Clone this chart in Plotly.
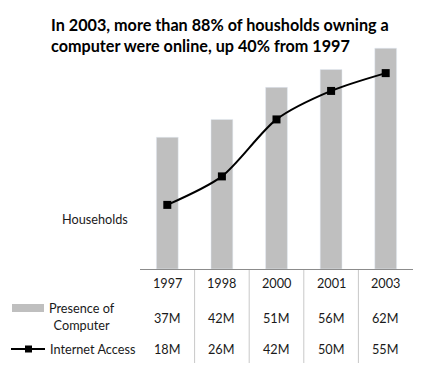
import plotly.graph_objects as go

years = ["1997", "1998", "2000", "2001", "2003"]
computer = [37, 42, 51, 56, 62]
internet = [18, 26, 42, 50, 55]
computer_labels = ["37M", "42M", "51M", "56M", "62M"]
internet_labels = ["18M", "26M", "42M", "50M", "55M"]
title_text = "In 2003, more than 88% of housholds owning a<br>computer were online, up 40% from 1997"

W, H = 431, 376
L, R, T, B = 140, 18, 40, 107
PW, PH = W - L - R, H - T - B
YMAX = 64.3

def px(x):
    return (x - L) / PW

def py(y):
    return (H - B - y) / PH

FONT = "Lato"
TXT = "#1a1a1a"
BAR = "#BFBFBF"

fig = go.Figure()
fig.add_trace(go.Bar(x=list(range(5)), y=computer, marker_color=BAR, width=0.4,
                     showlegend=False, hoverinfo="skip"))
fig.add_trace(go.Scatter(x=list(range(5)), y=internet, mode="lines+markers",
                         line=dict(color="black", width=2, shape="spline", smoothing=0.8),
                         marker=dict(symbol="square", size=8, color="black"),
                         showlegend=False, hoverinfo="skip", cliponaxis=False))

ann = []
ann.append(dict(text="<b>" + title_text + "</b>", x=px(49), y=py(35), xref="paper", yref="paper",
                xanchor="left", yanchor="middle", align="left", showarrow=False,
                font=dict(family=FONT, size=16.2, color="black")))
ann.append(dict(text="Households", x=px(130), y=py(219), xref="paper", yref="paper",
                xanchor="right", yanchor="middle", showarrow=False,
                font=dict(family=FONT, size=12.7, color=TXT)))
for i, yr in enumerate(years):
    ann.append(dict(text=yr, x=i, y=py(283), xref="x", yref="paper", showarrow=False,
                    xanchor="center", yanchor="middle", font=dict(family=FONT, size=12.7, color=TXT)))
    ann.append(dict(text=computer_labels[i], x=i, y=py(318), xref="x", yref="paper", showarrow=False,
                    xanchor="center", yanchor="middle", font=dict(family=FONT, size=12.7, color=TXT)))
    ann.append(dict(text=internet_labels[i], x=i, y=py(349), xref="x", yref="paper", showarrow=False,
                    xanchor="center", yanchor="middle", font=dict(family=FONT, size=12.7, color=TXT)))
ann.append(dict(text="Presence of<br>Computer", x=px(82), y=py(316), xref="paper", yref="paper",
                xanchor="center", yanchor="middle", align="center", showarrow=False,
                font=dict(family=FONT, size=12.7, color=TXT)))
ann.append(dict(text="Internet Access", x=px(48), y=py(349), xref="paper", yref="paper",
                xanchor="left", yanchor="middle", showarrow=False,
                font=dict(family=FONT, size=12.7, color=TXT)))

shapes = []
for b in [0.5, 1.5, 2.5, 3.5]:
    shapes.append(dict(type="line", xref="x", yref="paper", x0=b, x1=b, y0=py(270), y1=py(363),
                       line=dict(color="#C8C8C8", width=1)))
shapes.append(dict(type="rect", xref="paper", yref="paper", x0=px(12), x1=px(44), y0=py(304), y1=py(312),
                   fillcolor=BAR, line=dict(width=0)))
shapes.append(dict(type="line", xref="paper", yref="paper", x0=px(11), x1=px(45), y0=py(349), y1=py(349),
                   line=dict(color="black", width=2)))
shapes.append(dict(type="rect", xref="paper", yref="paper", x0=px(25), x1=px(32), y0=py(345.5), y1=py(352.5),
                   fillcolor="black", line=dict(width=0)))

fig.update_layout(
    width=W, height=H,
    margin=dict(l=L, r=R, t=T, b=B, pad=0),
    paper_bgcolor="white", plot_bgcolor="white",
    xaxis=dict(range=[-0.5, 4.5], showgrid=False, zeroline=False, showticklabels=False,
               showline=True, linecolor="#8C8C8C", linewidth=1, ticks="", fixedrange=True),
    yaxis=dict(range=[0, YMAX], showgrid=False, zeroline=False, showticklabels=False,
               showline=False, ticks="", fixedrange=True),
    annotations=ann, shapes=shapes, bargap=0.6, showlegend=False,
)
fig.write_html("out.html", config={"displayModeBar": False},
               post_script="document.body.style.margin='0px';document.body.style.overflow='hidden';")
